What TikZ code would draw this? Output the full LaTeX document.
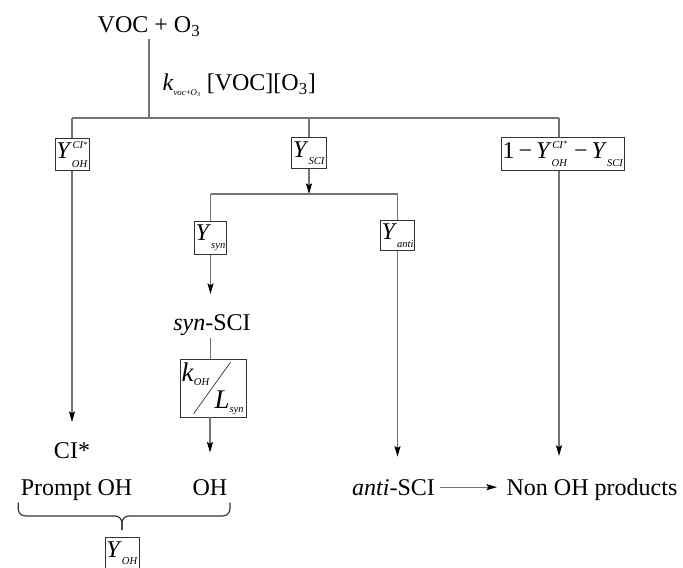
\documentclass[tikz,border=0pt]{standalone}
\usepackage{fontspec}
\setmainfont{Liberation Serif}
\usetikzlibrary{arrows.meta}

\newcommand{\subfont}{\fontsize{9pt}{9pt}\selectfont}
\newcommand{\lowtext}[2]{\raisebox{#1}{\subfont\textit{#2}}}
\newcommand{\yld}[1]{\textit{Y}\lowtext{-6.5pt}{#1}}
\newcommand{\ycistar}{\textit{Y}\lowtext{-7pt}{OH}\llap{\raisebox{8.5pt}{\subfont\textit{CI}\raisebox{1.5pt}{\fontsize{7pt}{7pt}\selectfont *}}}}

\begin{document}
\begin{tikzpicture}[x=0.03cm, y=-0.03cm,
    every node/.style={font=\fontsize{20.5pt}{24pt}\selectfont, inner sep=2pt},
    ybox/.style={draw=black!80, line width=0.8pt, inner xsep=1.2pt, inner ysep=3pt},
    link/.style={draw=black!55, line width=0.9pt},
    arr/.style={link, -{Stealth[length=9pt, width=5.2pt, inset=1.5pt, black]}},
    ybrace/.style={draw=black!80, line width=1pt, rounded corners=6pt}]
    \useasboundingbox (0,0) rectangle (683,567);

    % reactants and rate
    \node[anchor=base] (voc) at (149,33) {VOC + O\textsubscript{3}};
    \node[anchor=base west] (rate) at (160,91) {\textit{k}\raisebox{-4pt}{\fontsize{7.5pt}{7.5pt}\selectfont\textit{voc}+\textit{O}\textsubscript{3}} [VOC][O\textsubscript{3}]};
    \coordinate (split) at (149,118);
    \coordinate (lefttop) at (72,118);
    \coordinate (righttop) at (559,118);
    \draw[link] (voc) -- (split);
    \draw[link] (lefttop) -- (righttop);

    % first branching
    \node[ybox] (ycio) at (72,154.5) {\ycistar};
    \node[ybox] (ysci) at (309,153) {\yld{SCI}};
    \node[ybox] (yrest) at (563,154) {1\,−\,\ycistar\;−\,\yld{SCI}};
    \draw[link] (lefttop) -- (ycio);
    \draw[link] (split -| ysci) -- (ysci);
    \draw[link] (righttop) -- (righttop |- yrest.north);

    % prompt OH
    \node[anchor=base] (ci) at (72,458) {CI*};
    \draw[arr, shorten >=15pt] (ycio) -- (ci);

    % SCI fork
    \coordinate (fork) at (309,194);
    \draw[arr] (ysci) -- (fork);
    \node[ybox] (ysyn) at (210.5,238) {\yld{syn}};
    \node[ybox] (yanti) at (397.5,235.5) {\yld{anti}};
    \draw[link] (fork -| ysyn) -- (fork -| yanti);
    \draw[link] (fork -| ysyn) -- (ysyn);
    \draw[link] (fork -| yanti) -- (yanti);

    % syn branch
    \node[anchor=base] (syn) at (212,330) {\textit{syn}-SCI};
    \draw[arr, shorten >=15pt] (ysyn) -- (ysyn |- syn.north);
    \node[ybox, minimum width=57pt, minimum height=49.5pt] (kl) at (213.5,388) {};
    \draw[link] (syn.south -| ysyn) -- (ysyn |- kl.north);
    \node[anchor=base west, inner sep=0pt, font=\fontsize{23pt}{26pt}\selectfont] (kpart) at ([xshift=1.5pt, yshift=-19.6pt]kl.north west) {\textit{k}\lowtext{-3.5pt}{OH}};
    \node[anchor=base east, inner sep=0pt, font=\fontsize{23pt}{26pt}\selectfont] (lpart) at ([xshift=-3pt, yshift=7.7pt]kl.south east) {\textit{L}\lowtext{-3.5pt}{syn}};
    \draw[black!80, line width=0.6pt] ([xshift=-17pt, yshift=-22pt]kl.center) -- ([xshift=14.5pt, yshift=22pt]kl.center);
    \node[anchor=base] (oh) at (210,495) {OH};
    \draw[arr, shorten >=20.5pt] (oh |- kl.south) -- (oh);

    % anti branch
    \node[anchor=base] (anti) at (393.5,495) {\textit{anti}-SCI};
    \draw[arr, shorten >=17pt] (yanti) -- (yanti |- anti.north);
    \node[anchor=base] (nonoh) at (592,495) {Non OH products};
    \draw[arr, shorten >=17pt] (righttop |- yrest.south) -- (righttop |- nonoh.north);
    \draw[arr, shorten <=2pt, shorten >=6pt] (anti.east) -- (anti.east -| nonoh.west);

    % total OH yield
    \node[anchor=base] (prompt) at (76.5,495) {Prompt OH};
    \coordinate (brtip) at (122,530);
    \draw[ybrace] (prompt.south west) |- ([yshift=12pt]brtip) -- (brtip);
    \draw[ybrace] (prompt.south west -| oh.east) |- ([yshift=12pt]brtip) -- (brtip);
    \node[ybox] (yoh) at (122,553) {\yld{OH}};
\end{tikzpicture}
\end{document}
